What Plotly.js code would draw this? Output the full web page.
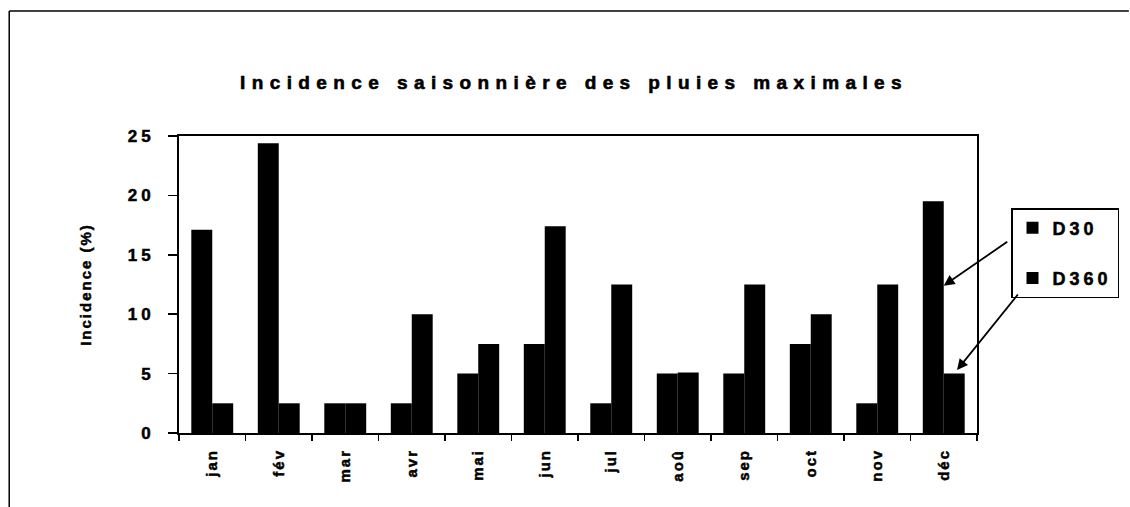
<!DOCTYPE html>
<html>
<head>
<meta charset="utf-8">
<script src="https://cdn.plot.ly/plotly-3.0.1.min.js"></script>
<style>
  html, body { margin: 0; padding: 0; background: #fff; }
  #chart { width: 1130px; height: 507px; }
  .gtitle { letter-spacing: 6.4px; stroke: #000; stroke-width: 0.6px; }
  .ytick text { letter-spacing: 4px; stroke: #000; stroke-width: 0.5px; }
  .xtick text { letter-spacing: 2px; stroke: #000; stroke-width: 0.5px; }
  .ytitle { letter-spacing: 2px; stroke: #000; stroke-width: 0.5px; }
  .legendtext { letter-spacing: 4px; stroke: #000; stroke-width: 0.5px; }
</style>
</head>
<body>
<div id="chart"></div>
<script>
const months = ['jan', 'fév', 'mar', 'avr', 'mai', 'jun', 'jul', 'aoû', 'sep', 'oct', 'nov', 'déc'];
const d30  = [17.1, 24.4, 2.5, 2.5, 5.0, 7.5, 2.5, 5.0, 5.0, 7.5, 2.5, 19.5];
const d360 = [2.5, 2.5, 2.5, 10.0, 7.5, 17.4, 12.5, 5.1, 12.5, 10.0, 12.5, 5.0];
const yTicks = [0, 5, 10, 15, 20, 25];
const seriesNames = ['D30', 'D360'];

const FONT = 'Liberation Sans, Arial, sans-serif';

const traces = [
  { type: 'bar', name: seriesNames[0], x: months, y: d30, legendgroup: 'a',
    marker: { color: '#000', line: { width: 0 } } },
  { type: 'bar', name: seriesNames[1], x: months, y: d360, legendgroup: 'b',
    marker: { color: '#000', line: { width: 0 } } }
];

// plot-area pixel geometry
const L = 179, R = 152, T = 136, B = 74, W = 1130, H = 507;
const pw = W - L - R, ph = H - T - B;
const px = v => (v - L) / pw;
const py = v => (H - B - v) / ph;

const layout = {
  width: W, height: H,
  margin: { l: L, r: R, t: T, b: B, pad: 0 },
  paper_bgcolor: '#fff', plot_bgcolor: '#fff',
  font: { family: FONT, color: '#000' },
  barmode: 'group', bargap: 0.37, bargroupgap: 0,
  title: {
    text: 'Incidence saisonnière des pluies maximales',
    font: { family: FONT, size: 19, weight: 'bold', color: '#000' },
    x: 0.508, xanchor: 'center', y: 0.837, yanchor: 'middle'
  },
  xaxis: {
    type: 'category', tickson: 'boundaries', range: [-0.5, 11.5],
    ticks: 'outside', ticklen: 6, tickwidth: 1.5, tickcolor: '#000',
    tickangle: -90, ticklabelstandoff: 8,
    tickfont: { family: FONT, size: 15, weight: 'bold', color: '#000' },
    showline: true, linecolor: '#000', linewidth: 2, mirror: true,
    showgrid: false, zeroline: false, fixedrange: true
  },
  yaxis: {
    range: [0, 25], tickvals: yTicks, ticktext: yTicks.map(String),
    ticks: 'outside', ticklen: 9, tickwidth: 1.5, tickcolor: '#000',
    ticklabelstandoff: 10,
    tickfont: { family: FONT, size: 17, weight: 'bold', color: '#000' },
    title: { text: 'Incidence (%)', font: { family: FONT, size: 15, weight: 'bold', color: '#000' }, standoff: 32 },
    showline: true, linecolor: '#000', linewidth: 2, mirror: true,
    showgrid: false, zeroline: false, fixedrange: true
  },
  yaxis2: {
    overlaying: 'y', side: 'left', range: [0, 25], tickvals: yTicks,
    ticks: 'inside', ticklen: 7, tickwidth: 1.5, tickcolor: '#000',
    showticklabels: false, showline: false, showgrid: false, zeroline: false, fixedrange: true
  },
  showlegend: true,
  legend: {
    x: px(1011), y: py(208), xanchor: 'left', yanchor: 'top',
    bgcolor: '#fff', bordercolor: '#000', borderwidth: 1.5,
    font: { family: FONT, size: 18, weight: 'bold', color: '#000' },
    tracegroupgap: 24, itemwidth: 30, traceorder: 'grouped'
  },
  annotations: [
    { x: 11, y: 12.4, xref: 'x', yref: 'y', ax: 65, ay: -45, text: '',
      showarrow: true, arrowhead: 2, arrowsize: 1.2, arrowwidth: 1.8, arrowcolor: '#000' },
    { x: 11.2, y: 5.3, xref: 'x', yref: 'y', ax: 62, ay: -77, text: '',
      showarrow: true, arrowhead: 2, arrowsize: 1.2, arrowwidth: 1.8, arrowcolor: '#000' }
  ],
  shapes: [
    { type: 'line', xref: 'paper', yref: 'paper', x0: px(9), x1: px(1130), y0: py(11), y1: py(11),
      line: { color: '#000', width: 1.5 } },
    { type: 'line', xref: 'paper', yref: 'paper', x0: px(9), x1: px(9), y0: py(11), y1: py(507),
      line: { color: '#000', width: 1.5 } }
  ]
};

Plotly.newPlot('chart', traces, layout, { displayModeBar: false, staticPlot: true });
</script>
</body>
</html>
